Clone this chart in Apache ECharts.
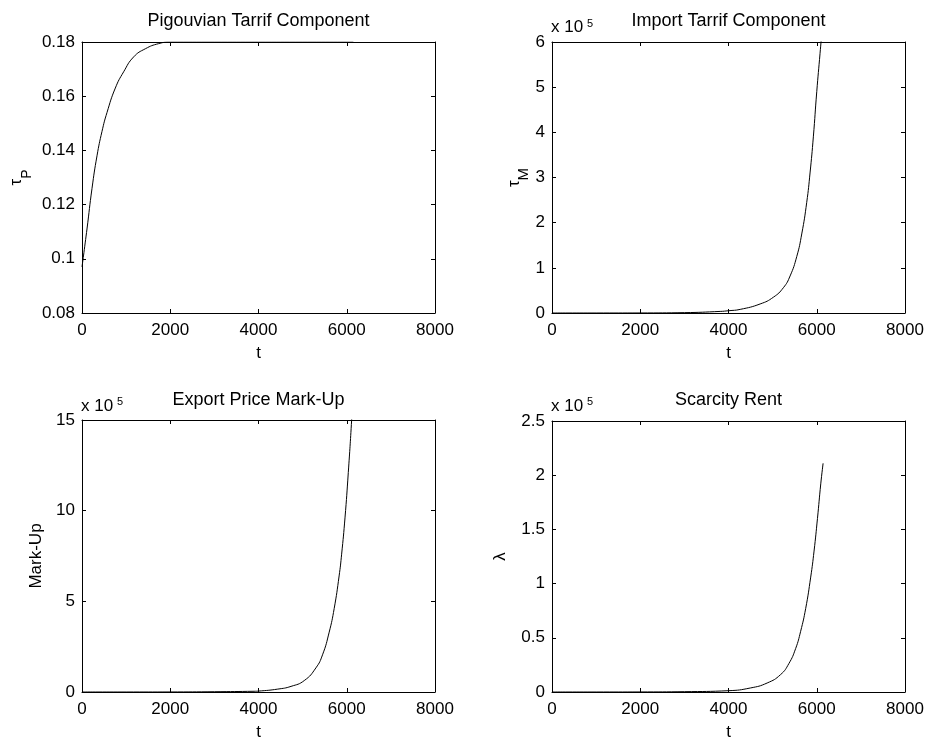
<!DOCTYPE html>
<html>
<head>
<meta charset="utf-8">
<title>Tariff components over time</title>
<script src="https://cdn.jsdelivr.net/npm/echarts@6/dist/echarts.min.js"></script>
<style>
  html, body { margin: 0; padding: 0; background: #fff; }
  #chart { width: 928px; height: 742px; }
</style>
</head>
<body>
<div id="chart"></div>
<script>
// ---- Simulated time paths ----
// Pigouvian tariff component tau_P
const tauPTime   = [0, 113, 227, 340, 453, 567, 755, 944, 1171, 1435, 1737, 2002, 3000, 4000, 5000, 6150];
const tauPValues = [0.097, 0.111, 0.126, 0.138, 0.147, 0.154, 0.163, 0.169, 0.1745, 0.1775, 0.1794, 0.18, 0.18, 0.18, 0.18, 0.18];

// Import tariff component tau_M
const tauMTime   = [0, 1000, 2000, 3000, 3812, 4000, 4265, 4717, 5018, 5244, 5396, 5547, 5660, 5773, 5848, 5923, 6000, 6075, 6150];
const tauMValues = [0, 0, 100, 800, 3500, 5000, 8000, 20000, 35000, 56000, 82000, 125000, 175000, 245000, 310000, 390000, 490000, 575000, 660000];

// Export price mark-up
const markUpTime   = [0, 1000, 2000, 3000, 3900, 4000, 4437, 4737, 5037, 5301, 5451, 5602, 5715, 5827, 5884, 5960, 6035, 6111, 6150];
const markUpValues = [0, 0, 200, 1500, 4000, 5000, 16000, 31000, 63000, 133000, 205000, 330000, 460000, 640000, 760000, 960000, 1210000, 1500000, 1680000];

// Scarcity rent lambda
const lambdaTime   = [0, 1000, 2000, 3000, 4000, 4495, 4876, 5179, 5368, 5521, 5635, 5749, 5863, 5939, 6016, 6091, 6144];
const lambdaValues = [0, 0, 50, 300, 1200, 3700, 8300, 16000, 26200, 40000, 56000, 77000, 106000, 130000, 160000, 192000, 211000];

// ---- Tick values ----
const tTicks      = [0, 2000, 4000, 6000, 8000];
const tauPTicks   = [0.08, 0.10, 0.12, 0.14, 0.16, 0.18];
const tauMTicks   = [0, 100000, 200000, 300000, 400000, 500000, 600000];
const markUpTicks = [0, 500000, 1000000, 1500000];
const lambdaTicks = [0, 50000, 100000, 150000, 200000, 250000];

const FONT = '"Liberation Sans", Arial, Helvetica, sans-serif';
const INK = '#000';
const FS = 17;
const TITLE_FS = 18;

const greekRich = {
  g:   { fontFamily: FONT, fontSize: 17, color: INK, lineHeight: 17, verticalAlign: 'top' },
  s:   { fontFamily: FONT, fontSize: 14, color: INK, lineHeight: 14, verticalAlign: 'top', padding: [12, 0, 0, 0] },
  sm:  { fontFamily: FONT, fontSize: 15, color: INK, lineHeight: 15, verticalAlign: 'top', padding: [11, 0, 0, 0] }
};

const panels = [
  { title: 'Pigouvian Tarrif Component', time: tauPTime, values: tauPValues, yTicks: tauPTicks, scale: 1,
    yName: '{g|τ}{s|P}', nameGap: 57, exponent: false,
    box: { left: 82, top: 42, width: 353, height: 271 }, titleY: 20.7, expoY: 27.5 },
  { title: 'Import Tarrif Component', time: tauMTime, values: tauMValues, yTicks: tauMTicks, scale: 1e5,
    yName: '{g|τ}{sm|M}', nameGap: 26, exponent: true,
    box: { left: 552, top: 42, width: 353, height: 271 }, titleY: 20.7, expoY: 27.5 },
  { title: 'Export Price Mark-Up', time: markUpTime, values: markUpValues, yTicks: markUpTicks, scale: 1e5,
    yName: 'Mark-Up', nameGap: 37, exponent: true,
    box: { left: 82, top: 420, width: 353, height: 272 }, titleY: 400, expoY: 406 },
  { title: 'Scarcity Rent', time: lambdaTime, values: lambdaValues, yTicks: lambdaTicks, scale: 1e5,
    yName: 'λ', nameGap: 43, exponent: true,
    box: { left: 552, top: 421, width: 353, height: 271 }, titleY: 400, expoY: 406 }
];

function tickFormatter(scale) {
  return function (v) { return String(parseFloat((v / scale).toFixed(4))); };
}

const grid = [], xAxis = [], yAxis = [], series = [], title = [];

panels.forEach(function (p, i) {
  grid.push({
    left: p.box.left, top: p.box.top, width: p.box.width, height: p.box.height,
    containLabel: false, outerBoundsMode: 'none', show: false
  });

  const xRange = {
    min: tTicks[0], max: tTicks[tTicks.length - 1], interval: tTicks[1] - tTicks[0]
  };
  const yRange = {
    min: p.yTicks[0], max: p.yTicks[p.yTicks.length - 1], interval: p.yTicks[1] - p.yTicks[0]
  };
  const line = { show: true, onZero: false, lineStyle: { color: INK, width: 1 } };
  const tick = { show: true, inside: true, length: 4, lineStyle: { color: INK, width: 1 } };

  // bottom t axis with labels
  xAxis.push(Object.assign({
    type: 'value', gridIndex: i, position: 'bottom',
    axisLine: line, axisTick: tick, splitLine: { show: false },
    axisLabel: { show: true, fontFamily: FONT, fontSize: FS, color: INK, margin: 9,
                 formatter: tickFormatter(1) },
    name: 't', nameLocation: 'middle', nameGap: 32,
    nameTextStyle: { fontFamily: FONT, fontSize: FS, color: INK }
  }, xRange));
  // top edge of the box, ticks only
  xAxis.push(Object.assign({
    type: 'value', gridIndex: i, position: 'top',
    axisLine: line, axisTick: tick, splitLine: { show: false },
    axisLabel: { show: false }
  }, xRange));

  yAxis.push(Object.assign({
    type: 'value', gridIndex: i, position: 'left',
    axisLine: line, axisTick: tick, splitLine: { show: false },
    axisLabel: { show: true, fontFamily: FONT, fontSize: FS, color: INK, margin: 7,
                 formatter: tickFormatter(p.scale) },
    name: p.yName, nameLocation: 'middle', nameRotate: 90, nameGap: p.nameGap,
    nameTextStyle: { fontFamily: FONT, fontSize: FS, color: INK, rich: greekRich }
  }, yRange));
  yAxis.push(Object.assign({
    type: 'value', gridIndex: i, position: 'right',
    axisLine: line, axisTick: tick, splitLine: { show: false },
    axisLabel: { show: false }
  }, yRange));

  series.push({
    type: 'line', name: p.title,
    xAxisIndex: 2 * i, yAxisIndex: 2 * i,
    data: p.time.map(function (t, k) { return [t, p.values[k]]; }),
    showSymbol: false, smooth: 0.5, clip: true,
    lineStyle: { color: INK, width: 1 }, silent: true
  });

  title.push({
    text: p.title, left: p.box.left + p.box.width / 2, top: p.titleY,
    textAlign: 'center', textVerticalAlign: 'middle', padding: 0,
    textStyle: { fontFamily: FONT, fontSize: TITLE_FS, fontWeight: 'normal', color: INK }
  });

  if (p.exponent) {
    // scale factor shown above the y axis: "x 10" with a raised exponent
    title.push({
      text: 'x 10', left: p.box.left - 1, top: p.expoY,
      textAlign: 'left', textVerticalAlign: 'middle', padding: 0,
      textStyle: { fontFamily: FONT, fontSize: FS, fontWeight: 'normal', color: INK }
    });
    title.push({
      text: '5', left: p.box.left + 35, top: p.expoY - 4,
      textAlign: 'left', textVerticalAlign: 'middle', padding: 0,
      textStyle: { fontFamily: FONT, fontSize: 11, fontWeight: 'normal', color: INK }
    });
  }
});

const chart = echarts.init(document.getElementById('chart'), null, { renderer: 'canvas' });
chart.setOption({
  animation: false,
  backgroundColor: '#fff',
  title: title,
  grid: grid,
  xAxis: xAxis,
  yAxis: yAxis,
  series: series
});
</script>
</body>
</html>
